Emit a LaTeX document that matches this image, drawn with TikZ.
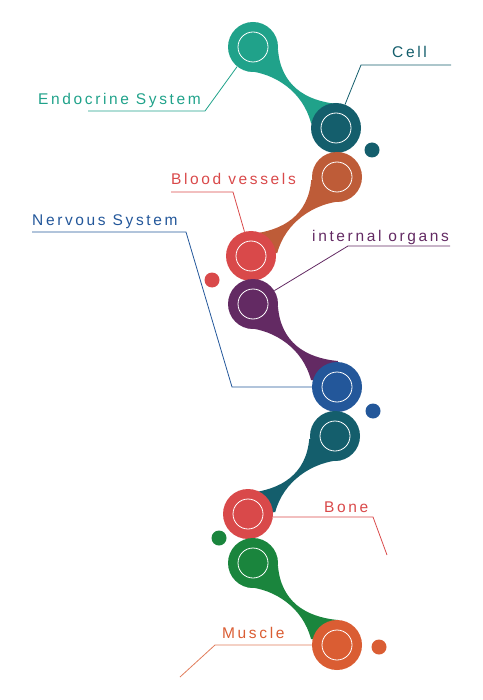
\documentclass[tikz,border=0pt]{standalone}
\usepackage{fontspec}
\newfontfamily\labfont{Liberation Sans}[LetterSpace=17]
\usetikzlibrary{backgrounds}

\definecolor{jade}{HTML}{20A28A}
\definecolor{petrol}{HTML}{145E6C}
\definecolor{rust}{HTML}{BE5C38}
\definecolor{coral}{HTML}{D9494A}
\definecolor{plum}{HTML}{632A63}
\definecolor{cobalt}{HTML}{23579A}
\definecolor{forest}{HTML}{1A853D}
\definecolor{tangerine}{HTML}{DA5D33}

\tikzset{
  ball/.style={circle, fill=#1, minimum size=50pt, inner sep=0pt},
  bead/.style={circle, fill=#1, minimum size=15pt, inner sep=0pt},
  ring/.style={draw=white, line width=0.8pt},
  lbl/.style={text=#1, font=\labfont\fontsize{15.5}{18}\selectfont, inner sep=0pt, anchor=base west},
  lead/.style={draw=#1, line width=0.8pt},
}

\begin{document}
\begin{tikzpicture}[x=1pt, y=-1pt]
\useasboundingbox (0,0) rectangle (482,700);

\node[ball=jade](endo) at (253,47) {};
\node[ball=petrol](cell) at (336,128) {};
\node[ball=rust](rustball) at (337,177) {};
\node[ball=coral](blood) at (251,256) {};
\node[ball=plum](organs) at (253,304) {};
\node[ball=cobalt](nerv) at (337,387) {};
\node[ball=petrol](petrolball) at (335,436) {};
\node[ball=coral](bone) at (248,514) {};
\node[ball=forest](greenball) at (253,563) {};
\node[ball=tangerine](muscle) at (337,645) {};

% tails between the balls
\begin{pgfonlayer}{background}
\foreach \u/\s/\c in {endo/1/jade, rustball/-1.03/rust, organs/1/plum, petrolball/-1.03/petrol, greenball/1/forest}
  \fill[\c, shift={(\u.center)}, xscale=\s] (-6,24) .. controls (22,26) and (50,45) .. (58,76) -- (84,80)
    -- (85,57) .. controls (52,54) and (28,38) .. (25,3) -- (0,0) -- cycle;
\end{pgfonlayer}

\foreach \n in {endo,cell,rustball,blood,organs,nerv,petrolball,bone,greenball,muscle}
  \draw[ring] (\n.center) circle (15pt);

\node[bead=petrol](b1) at (372,150) {};
\node[bead=coral](b2) at (212,280) {};
\node[bead=cobalt](b3) at (373,411) {};
\node[bead=forest](b4) at (219,538) {};
\node[bead=tangerine](b5) at (379,647) {};

\node[lbl=jade](endoL) at (38,105) {Endocrine System};
\node[lbl=petrol](cellL) at (392,58) {Cell};
\node[lbl=coral](bloodL) at (171,185) {Blood vessels};
\node[lbl=cobalt](nervL) at (32,226) {Nervous System};
\node[lbl=plum](organsL) at (312,241) {internal organs};
\node[lbl=coral](boneL) at (324,512) {Bone};
\node[lbl=tangerine](muscleL) at (222,638) {Muscle};

\coordinate (endoK) at (205,111);
\coordinate (endoE) at (88,111);
\coordinate (cellK) at (361,65);
\coordinate (cellE) at (451,65);
\coordinate (bloodK) at (233,192);
\coordinate (bloodE) at (171,192);
\coordinate (nervK1) at (232,387);
\coordinate (nervK2) at (186,232);
\coordinate (nervE) at (32,232);
\coordinate (organsK) at (348,246);
\coordinate (organsE) at (450,246);
\coordinate (boneK) at (373,517);
\coordinate (boneE) at (387,555);
\coordinate (muscleK) at (215,645);
\coordinate (muscleE) at (180,677);

\draw[lead=jade] (endo.231) -- (endoK) -- (endoE);
\draw[lead=petrol] (cell.69) -- (cellK) -- (cellE);
\draw[lead=coral] (blood.105) -- (bloodK) -- (bloodE);
\draw[lead=cobalt] (nerv.west) -- (nervK1) -- (nervK2) -- (nervE);
\draw[lead=plum] (organs.32) -- (organsK) -- (organsE);
\draw[lead=coral] (bone.-7) -- (boneK) -- (boneE);
\draw[lead=tangerine!80] (muscle.west) -- (muscleK) -- (muscleE);

\end{tikzpicture}
\end{document}
